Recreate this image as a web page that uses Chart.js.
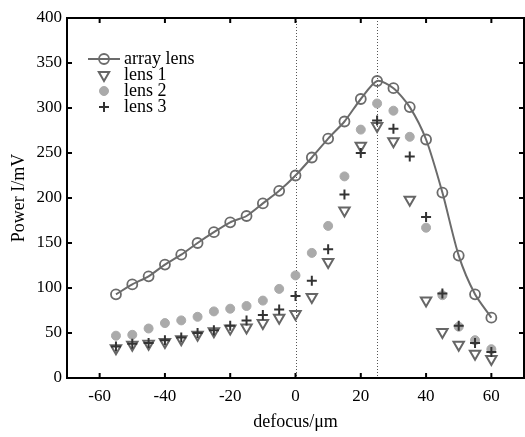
<!DOCTYPE html>
<html>
<head>
<meta charset="utf-8">
<script src="https://cdn.jsdelivr.net/npm/chart.js@4/dist/chart.umd.min.js"></script>
<style>
    html, body { margin: 0; padding: 0; background: #fff; overflow: hidden; }
    #wrap { width: 525px; height: 437px; overflow: hidden; }
</style>
</head>
<body>
<div id="wrap"><canvas id="powerChart" width="532" height="437"></canvas></div>
<script>
// ===== DATA =====
const defocus = [-55, -50, -45, -40, -35, -30, -25, -20, -15, -10, -5, 0, 5, 10, 15, 20, 25, 30, 35, 40, 45, 50, 55, 60];
const arrayLens = [93, 104, 113, 126, 137, 150, 162, 173, 180, 194, 208, 225, 245, 266, 285, 310, 330, 322, 301, 265, 206, 136, 93, 67];
const lens1 = [33, 37, 38, 40, 43, 48, 52, 55, 56, 61, 67, 71, 90, 129, 186, 258, 280, 263, 198, 86, 51, 37, 27, 21];
const lens2 = [47, 48, 55, 61, 64, 68, 74, 77, 80, 86, 99, 114, 139, 169, 224, 276, 305, 297, 268, 167, 92, 57, 42, 32];
const lens3 = [35, 38, 39, 42, 45, 50, 53, 58, 64, 70, 76, 91, 108, 143, 204, 250, 286, 277, 246, 179, 94, 58, 39, 29];
const xTicks = [-60, -40, -20, 0, 20, 40, 60];
const yTicks = [0, 50, 100, 150, 200, 250, 300, 350, 400];
const focusLines = [0, 25];

const FONT = '"Liberation Serif", "Times New Roman", serif';

function pts(ys) {
    return defocus.map((x, i) => ({ x: x, y: ys[i] }));
}

// ===== FRAME, INWARD TICKS, DOTTED LINES, LEGEND =====
const framePlugin = {
    id: 'frame',
    beforeDatasetsDraw(chart) {
        const { ctx, chartArea: a, scales: { x } } = chart;
        ctx.save();
        ctx.strokeStyle = '#555';
        ctx.lineWidth = 1;
        ctx.setLineDash([1, 2]);
        focusLines.forEach(v => {
            const px = Math.round(x.getPixelForValue(v)) + 0.5;
            ctx.beginPath();
            ctx.moveTo(px, a.top);
            ctx.lineTo(px, a.bottom);
            ctx.stroke();
        });
        ctx.restore();
    },
    afterDraw(chart) {
        const { ctx, chartArea: a, scales: { x, y } } = chart;
        ctx.save();
        ctx.strokeStyle = '#000';
        ctx.lineWidth = 2;
        ctx.strokeRect(a.left, a.top, a.right - a.left, a.bottom - a.top);
        const len = 5;
        xTicks.forEach(v => {
            const px = x.getPixelForValue(v);
            ctx.beginPath();
            ctx.moveTo(px, a.bottom); ctx.lineTo(px, a.bottom - len);
            ctx.moveTo(px, a.top); ctx.lineTo(px, a.top + len);
            ctx.stroke();
        });
        yTicks.forEach(v => {
            const py = y.getPixelForValue(v);
            ctx.beginPath();
            ctx.moveTo(a.left, py); ctx.lineTo(a.left + len, py);
            ctx.moveTo(a.right, py); ctx.lineTo(a.right - len, py);
            ctx.stroke();
        });

        // legend (top-left, inside the plot)
        const lx = a.left + 21, ly = a.top + 41, step = 16;
        ctx.font = '18px ' + FONT;
        ctx.textBaseline = 'middle';
        chart.data.datasets.forEach((ds, i) => {
            const cy = ly + i * step;
            const cx = lx + 16;
            if (ds.showLine) {
                ctx.strokeStyle = ds.borderColor;
                ctx.lineWidth = ds.borderWidth;
                ctx.beginPath();
                ctx.moveTo(lx, cy); ctx.lineTo(lx + 32, cy);
                ctx.stroke();
            }
            ctx.strokeStyle = ds.pointBorderColor;
            ctx.fillStyle = ds.pointBackgroundColor;
            ctx.lineWidth = ds.pointBorderWidth;
            Chart.helpers.drawPoint(ctx, {
                pointStyle: ds.pointStyle,
                rotation: ds.rotation || 0,
                radius: ds.pointRadius,
                borderWidth: ds.pointBorderWidth
            }, cx, cy);
            ctx.fillStyle = '#000';
            ctx.fillText(ds.label, lx + 36, cy);
        });
        ctx.restore();
    }
};

// ===== CHART =====
const ctx = document.getElementById('powerChart');

const chart = new Chart(ctx, {
    type: 'scatter',
    data: {
        datasets: [{
            label: 'array lens',
            data: pts(arrayLens),
            showLine: true,
            tension: 0.25,
            borderColor: '#6b6b6b',
            borderWidth: 2,
            pointStyle: 'circle',
            pointRadius: 5,
            pointBorderWidth: 1.8,
            pointBorderColor: '#6b6b6b',
            pointBackgroundColor: 'rgba(255,255,255,0)',
            order: 4
        }, {
            label: 'lens 1',
            data: pts(lens1),
            pointStyle: 'triangle',
            rotation: 180,
            pointRadius: 6,
            pointBorderWidth: 2,
            pointBorderColor: '#666',
            pointBackgroundColor: 'rgba(255,255,255,0)',
            order: 2
        }, {
            label: 'lens 2',
            data: pts(lens2),
            pointStyle: 'circle',
            pointRadius: 4.5,
            pointBorderWidth: 1,
            pointBorderColor: '#aaa',
            pointBackgroundColor: '#aaa',
            order: 3
        }, {
            label: 'lens 3',
            data: pts(lens3),
            pointStyle: 'cross',
            pointRadius: 5,
            pointBorderWidth: 2,
            pointBorderColor: '#333',
            pointBackgroundColor: '#333',
            order: 1
        }]
    },
    options: {
        responsive: false,
        animation: false,
        layout: { padding: { top: 18, right: 1, left: 0, bottom: 0 } },
        plugins: {
            legend: { display: false },
            tooltip: { enabled: false }
        },
        scales: {
            x: {
                type: 'linear',
                min: -70,
                max: 70,
                afterBuildTicks: s => { s.ticks = xTicks.map(v => ({ value: v })); },
                afterFit: s => { s.height = 59; s.paddingLeft = 0; s.paddingRight = 0; },
                grid: { display: false, drawTicks: false },
                border: { display: false },
                ticks: { color: '#000', padding: 8, font: { family: FONT, size: 17 } },
                title: { display: true, text: 'defocus/μm', color: '#000', padding: { top: 6 }, font: { family: FONT, size: 18 } }
            },
            y: {
                min: 0,
                max: 400,
                afterBuildTicks: s => { s.ticks = yTicks.map(v => ({ value: v })); },
                afterFit: s => { s.width = 67; s.paddingTop = 0; s.paddingBottom = 0; },
                grid: { display: false, drawTicks: false },
                border: { display: false },
                ticks: { color: '#000', padding: 5, font: { family: FONT, size: 17 } },
                title: { display: true, text: 'Power I/mV', color: '#000', padding: { top: 8, bottom: 0 }, font: { family: FONT, size: 18 } }
            }
        }
    },
    plugins: [framePlugin]
});
</script>
</body>
</html>
